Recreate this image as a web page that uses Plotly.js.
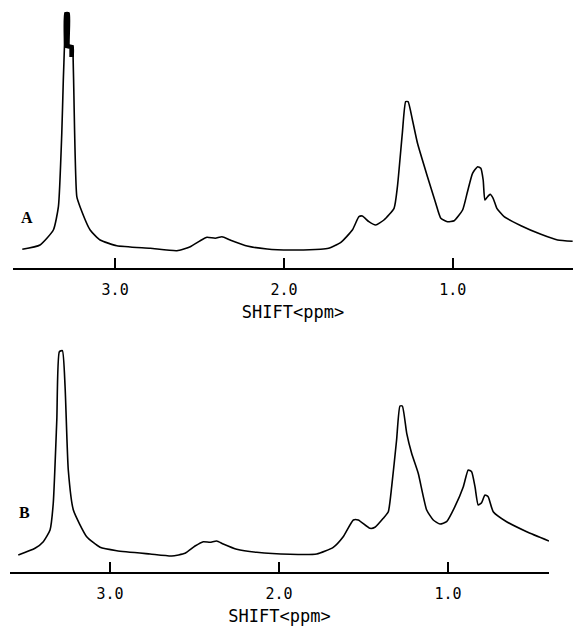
<!DOCTYPE html>
<html>
<head>
<meta charset="utf-8">
<script src="https://cdn.plot.ly/plotly-3.0.1.min.js"></script>
<style>html,body{margin:0;padding:0;background:#fff;}#chart{width:573px;height:631px;}</style>
</head>
<body>
<div id="chart"></div>
<script>
// Spectrum A: chemical shift (ppm) and intensity (a.u.)
const shiftA = [3.550,3.445,3.366,3.336,3.316,3.307,3.300,3.297,3.273,3.273,3.267,3.249,3.249,3.246,3.227,3.208,3.148,3.089,2.990,2.792,2.634,2.555,2.496,2.456,2.407,2.367,2.318,2.218,2.100,1.961,1.783,1.736,1.665,1.595,1.556,1.536,1.497,1.457,1.408,1.348,1.328,1.299,1.279,1.265,1.239,1.209,1.150,1.101,1.071,1.032,0.992,0.942,0.913,0.883,0.853,0.834,0.820,0.810,0.794,0.779,0.761,0.739,0.696,0.596,0.478,0.379,0.290];
const intA   = [18.7,23,38,61.3,135,188,223,255,255,222,221,221,211,188,71.3,61.3,38,28,22.3,19.7,17.3,21.3,27.3,30.7,29.7,31.3,28,22,19,18,18.7,19.7,25.3,38,51.3,52,46.3,43,48,59.7,81.3,134.7,166.3,166.3,148,124.7,91.3,64.7,49.7,46.3,47.3,58,76.3,94.7,101.3,99.7,88,68,71.3,73.7,69.7,59.7,51.3,42.3,33.7,28,26.7];
// Saturated (pen-overdrawn) top of the largest peak in A
const topShiftA = [3.286, 3.286, 3.258, 3.258];
const topIntA   = [256, 222, 221, 211];

// Spectrum B
const shiftB = [3.543,3.444,3.395,3.355,3.336,3.315,3.300,3.282,3.266,3.247,3.217,3.138,3.059,2.960,2.763,2.635,2.556,2.497,2.448,2.408,2.369,2.330,2.250,2.132,1.935,1.777,1.679,1.620,1.560,1.531,1.462,1.432,1.383,1.353,1.333,1.304,1.284,1.270,1.244,1.215,1.176,1.126,1.087,1.047,1.008,0.959,0.909,0.880,0.860,0.840,0.821,0.801,0.781,0.762,0.732,0.653,0.534,0.402];
const intB   = [17,23.7,30.3,42,68.7,152,220.3,221.3,185.3,102,62,35.3,24.7,21.3,18,16,18.7,26,30.3,29.7,31,28,22.7,19.7,17.7,18,24.7,35.3,52,52,43.7,44.7,53.7,60.3,85.3,132,166,166,138.7,118.7,98.7,62,52,48,50.3,65.3,85.3,102,100.3,85.3,67,69.3,77,75.3,60.3,50.3,40.3,31];

const tickVals = [3.0, 2.0, 1.0];
const tickText = ['3.0', '2.0', '1.0'];
const axisTitle = 'SHIFT&lt;ppm&gt;';
const panelLabels = ['A', 'B'];

const lineStyle = {color: '#000', width: 1.6, shape: 'spline', smoothing: 0.5};
const traces = [
  {x: shiftA, y: intA, type: 'scatter', mode: 'lines', line: lineStyle, xaxis: 'x', yaxis: 'y', hoverinfo: 'skip'},
  {x: topShiftA, y: topIntA, type: 'scatter', mode: 'lines', line: {color: '#000', width: 4.5}, xaxis: 'x', yaxis: 'y', hoverinfo: 'skip'},
  {x: shiftB, y: intB, type: 'scatter', mode: 'lines', line: lineStyle, xaxis: 'x2', yaxis: 'y2', hoverinfo: 'skip'}
];

function xAxis(domain, range, anchor) {
  return {
    domain: domain, range: range, anchor: anchor,
    showline: true, linecolor: '#000', linewidth: 2,
    showgrid: false, zeroline: false,
    ticks: 'inside', ticklen: 10, tickwidth: 1.5, tickcolor: '#000',
    tickvals: tickVals, ticktext: tickText,
    tickfont: {family: 'DejaVu Sans Mono', size: 15, color: '#000'},
    ticklabelstandoff: 7,
    title: {text: axisTitle, font: {family: 'DejaVu Sans Mono', size: 17, color: '#000'}, standoff: 8}
  };
}
function yAxis(domain, anchor) {
  return {domain: domain, range: [0, 260], anchor: anchor, visible: false, showgrid: false, zeroline: false};
}

const layout = {
  width: 573, height: 631,
  margin: {l: 0, r: 0, t: 0, b: 0},
  paper_bgcolor: '#fff', plot_bgcolor: '#fff',
  showlegend: false,
  xaxis: xAxis([13/573, 1], [3.605, 0.288], 'y'),
  yaxis: yAxis([(631-268)/631, (631-8)/631], 'x'),
  xaxis2: xAxis([10/573, 549/573], [3.592, 0.402], 'y2'),
  yaxis2: yAxis([(631-572)/631, (631-312)/631], 'x2'),
  annotations: [
    {text: panelLabels[0], xref: 'paper', yref: 'paper', x: 19/573, y: (631-218)/631, showarrow: false,
     font: {family: 'Liberation Serif', size: 16, color: '#000', weight: 'bold'}},
    {text: panelLabels[1], xref: 'paper', yref: 'paper', x: 17/573, y: (631-523)/631, showarrow: false,
     font: {family: 'Liberation Serif', size: 16, color: '#000', weight: 'bold'}}
  ]
};

Plotly.newPlot('chart', traces, layout, {staticPlot: true, displayModeBar: false});
</script>
</body>
</html>
